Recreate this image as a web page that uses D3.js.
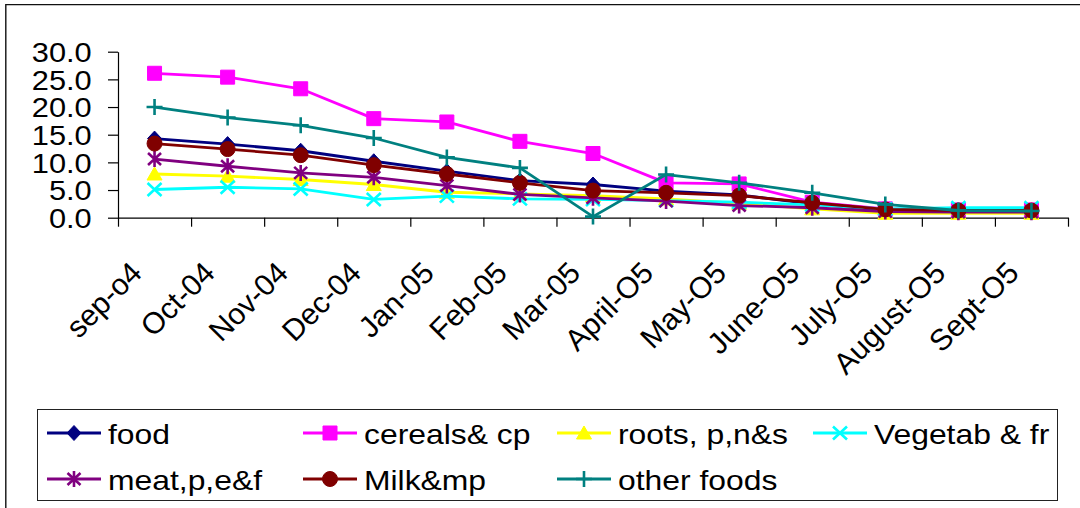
<!DOCTYPE html>
<html>
<head>
<meta charset="utf-8">
<script src="https://cdn.jsdelivr.net/npm/d3@7/dist/d3.min.js"></script>
<style>
  html, body { margin: 0; padding: 0; background: #fff; }
  svg { display: block; font-family: "Liberation Sans", Arial, sans-serif; }
</style>
</head>
<body>
<svg id="chart" width="1080" height="508"></svg>
<script>
// Monthly price changes by food group, Sep 2004 – Sep 2005
const categories = ["sep-o4", "Oct-04", "Nov-04", "Dec-04", "Jan-05", "Feb-05", "Mar-05",
                    "April-O5", "May-O5", "June-O5", "July-O5", "August-O5", "Sept-O5"];

const food      = [14.3, 13.3, 12.1, 10.2, 8.4, 6.7, 6.0, 4.8, 4.1, 2.5, 1.3, 1.2, 1.2];
const cereals   = [26.1, 25.4, 23.3, 17.9, 17.3, 13.8, 11.6, 6.3, 6.1, 2.8, 1.6, 1.4, 1.4];
const roots     = [7.9, 7.5, 6.9, 6.0, 4.6, 4.3, 4.0, 3.4, 2.6, 1.6, 0.8, 0.8, 0.8];
const vegetab   = [5.1, 5.5, 5.2, 3.3, 3.9, 3.4, 3.3, 3.1, 2.8, 2.3, 1.6, 1.8, 1.8];
const meat      = [10.6, 9.3, 8.1, 7.3, 5.8, 4.2, 3.6, 3.0, 2.2, 1.8, 1.1, 1.0, 1.0];
const milk      = [13.4, 12.4, 11.3, 9.5, 7.9, 6.3, 4.9, 4.5, 4.0, 2.7, 1.5, 1.3, 1.3];
const otherFood = [20.0, 18.1, 16.7, 14.4, 10.9, 9.0, 0.2, 7.8, 6.3, 4.5, 2.4, 1.3, 1.2];

const seriesNames = ["food", "cereals& cp", "roots, p,n&s", "Vegetab & fr",
                     "meat,p,e&f", "Milk&mp", "other foods"];
const yTicks = [0, 5, 10, 15, 20, 25, 30];

// Marker shapes, centred on the origin
const markerShapes = {
  diamond:  { path: "M0,-7.5L7,0L0,7.5L-7,0Z", fill: true },
  square:   { path: "M-7,-7H7V7H-7Z", fill: true },
  triangle: { path: "M0,-7L7.5,6L-7.5,6Z", fill: true },
  cross:    { path: "M-7,-6.5L7,6.5M-7,6.5L7,-6.5", fill: false },
  star:     { path: "M-6.5,-6L6.5,6M-6.5,6L6.5,-6M0,-8V8", fill: false },
  circle:   { path: "M7.5,0A7.5,7.5 0 1,1 -7.5,0A7.5,7.5 0 1,1 7.5,0Z", fill: true },
  plus:     { path: "M-8,0H8M0,-8V8", fill: false }
};

const series = [
  { name: seriesNames[0], values: food,      color: "#000080", marker: "diamond" },
  { name: seriesNames[1], values: cereals,   color: "#FF00FF", marker: "square" },
  { name: seriesNames[2], values: roots,     color: "#FFFF00", marker: "triangle" },
  { name: seriesNames[3], values: vegetab,   color: "#00FFFF", marker: "cross" },
  { name: seriesNames[4], values: meat,      color: "#800080", marker: "star" },
  { name: seriesNames[5], values: milk,      color: "#800000", marker: "circle" },
  { name: seriesNames[6], values: otherFood, color: "#008080", marker: "plus" }
];

const svg = d3.select("#chart");

// Outer chart frame (left and top edges)
svg.append("path")
  .attr("d", "M5.8,508V4.6H1080")
  .attr("fill", "none")
  .attr("stroke", "#111")
  .attr("stroke-width", 1.4);

const plotLeft = 118, plotRight = 1068, plotTop = 51.7, plotBottom = 217.7;

const x = d3.scaleBand().domain(categories).range([plotLeft, plotRight]).padding(0);
const xEdge = d3.scaleLinear().domain([0, categories.length]).range([plotLeft, plotRight]);
const y = d3.scaleLinear().domain([0, 30]).range([plotBottom, plotTop]);

// Y axis
const yAxisG = svg.append("g")
  .attr("transform", `translate(${plotLeft},0)`)
  .call(d3.axisLeft(y).tickValues(yTicks).tickSize(10).tickSizeOuter(0)
        .tickFormat(d3.format(".1f")));
yAxisG.selectAll("path.domain, line").attr("stroke", "#000").attr("stroke-width", 1.2);
yAxisG.selectAll("text")
  .attr("x", -23.5)
  .attr("dy", "0.36em")
  .attr("transform", "scale(1.12,1)")
  .attr("fill", "#000")
  .style("font-size", "27.5px")
  .style("font-family", "'Liberation Sans', Arial, sans-serif");

// X axis: tick marks on category boundaries
const xAxisG = svg.append("g")
  .attr("transform", `translate(0,${plotBottom})`)
  .call(d3.axisBottom(xEdge).tickValues(d3.range(categories.length + 1))
        .tickSize(9).tickSizeOuter(0).tickFormat(""));
xAxisG.selectAll("path.domain, line").attr("stroke", "#000").attr("stroke-width", 1.2);

// X axis: rotated category labels
const xLabelG = svg.append("g")
  .attr("transform", `translate(0,${plotBottom})`)
  .call(d3.axisBottom(x).tickSize(0));
xLabelG.select("path.domain").remove();
xLabelG.selectAll("text")
  .attr("x", 0).attr("y", 0).attr("dy", 0)
  .attr("text-anchor", "end")
  .attr("transform", "translate(-11,57) rotate(-45)")
  .attr("fill", "#000")
  .style("font-size", "30px")
  .style("font-family", "'Liberation Sans', Arial, sans-serif");

// Series lines and markers
const line = d3.line()
  .x((d, i) => x(categories[i]) + x.bandwidth() / 2)
  .y(d => y(d));

function drawMarker(sel, s) {
  const shape = markerShapes[s.marker];
  sel.attr("d", shape.path)
    .attr("fill", shape.fill ? s.color : "none")
    .attr("stroke", s.color)
    .attr("stroke-width", shape.fill ? 1 : 2.6)
    .attr("stroke-linecap", "butt");
}

series.forEach(s => {
  const g = svg.append("g").attr("class", "series");
  g.append("path")
    .datum(s.values)
    .attr("d", line)
    .attr("fill", "none")
    .attr("stroke", s.color)
    .attr("stroke-width", 2.8)
    .attr("stroke-linejoin", "round");
  g.selectAll("path.marker")
    .data(s.values)
    .join("path")
    .attr("class", "marker")
    .attr("transform", (d, i) => `translate(${x(categories[i]) + x.bandwidth() / 2},${y(d)})`)
    .call(drawMarker, s);
});

// Legend
const legend = svg.append("g");
legend.append("rect")
  .attr("x", 37.5).attr("y", 409.5)
  .attr("width", 1020).attr("height", 91)
  .attr("fill", "#fff")
  .attr("stroke", "#222")
  .attr("stroke-width", 1);

const colX = [47, 303, 557, 813];
const rowY = [433, 479];

series.forEach((s, i) => {
  const cx = colX[i % 4];
  const cy = rowY[Math.floor(i / 4)];
  const item = legend.append("g").attr("transform", `translate(${cx},${cy})`);
  item.append("line")
    .attr("x1", 0).attr("x2", 54).attr("y1", 0).attr("y2", 0)
    .attr("stroke", s.color).attr("stroke-width", 2.8);
  item.append("path")
    .attr("transform", "translate(27,0)")
    .call(drawMarker, s);
  item.append("text")
    .attr("transform", "translate(61,11) scale(1.18,1)")
    .attr("fill", "#000")
    .style("font-size", "27px")
    .text(s.name);
});
</script>
</body>
</html>
